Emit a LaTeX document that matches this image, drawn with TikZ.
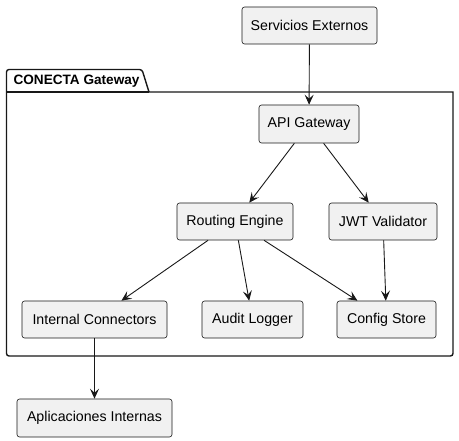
\documentclass[tikz,border=0pt]{standalone}
\usepackage{fontspec}
\setmainfont{Liberation Sans}
\usetikzlibrary{arrows.meta}
\definecolor{boxfill}{HTML}{F1F1F1}
\definecolor{boxline}{HTML}{181818}
\tikzset{
  comp/.style={draw=boxline, fill=boxfill, line width=0.6pt, rounded corners=2.5pt,
    minimum height=37pt, inner sep=0pt, font=\fontsize{14.2}{17}\selectfont, text=black},
  conn/.style={draw=boxline, line width=0.9pt, -{Stealth[length=10pt,width=9pt,inset=4pt]}},
  pkg/.style={draw=boxline, line width=1.4pt, rounded corners=2.5pt}
}
\begin{document}
\begin{tikzpicture}[x=1pt,y=-1pt]
\useasboundingbox (0,0) rectangle (459,441);
% package
\draw[pkg] (6.5,356) -- (6.5,69.5) -- (142,69.5) [sharp corners] -- (149,92) -- (453,92) [rounded corners=2.5pt] -- (453,356) -- cycle;
\draw[boxline, line width=1.2pt] (6.5,92) -- (149,92);
\node[anchor=west, font=\bfseries\fontsize{13.6}{16}\selectfont] (pkgtitle) at (10,81) {CONECTA Gateway};
% nodes
\node[comp, minimum width=135pt] (svc) at (309.5,25.5) {Servicios Externos};
\node[comp, minimum width=100pt, minimum height=38pt] (api) at (309,124) {API Gateway};
\node[comp, minimum width=116pt] (rout) at (235,221.5) {Routing Engine};
\node[comp, minimum width=108pt] (jwt) at (383,221.5) {JWT Validator};
\node[comp, minimum width=145pt] (intc) at (94.5,319.5) {Internal Connectors};
\node[comp, minimum width=101pt] (audit) at (252.5,319.5) {Audit Logger};
\node[comp, minimum width=99pt] (cfg) at (386.5,319.5) {Config Store};
\node[comp, minimum width=155pt, minimum height=38pt] (apps) at (94.5,418) {Aplicaciones Internas};
% connectors
\draw[conn] (svc) -- (api);
\draw[conn] (api) -- (rout);
\draw[conn] (api) -- (jwt);
\draw[conn] (rout) -- (intc);
\draw[conn] (rout) -- (audit);
\draw[conn] (rout) -- (cfg);
\draw[conn] (jwt) -- (cfg);
\draw[conn] (intc) -- (apps);
\end{tikzpicture}
\end{document}
